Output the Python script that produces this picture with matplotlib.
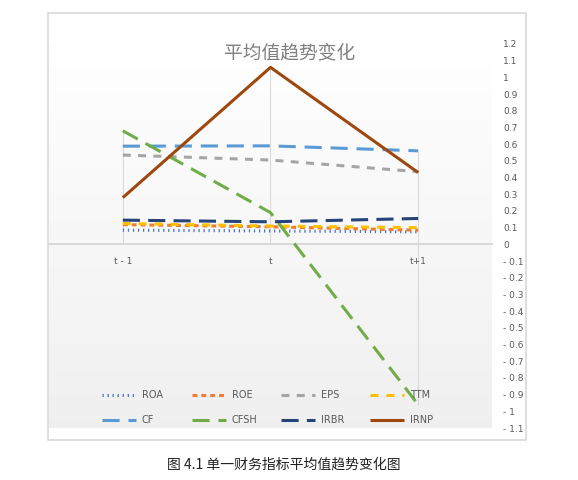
import matplotlib
matplotlib.use("Agg")
import matplotlib.pyplot as plt
import numpy as np
from matplotlib.patches import Rectangle

# ---------------- data ----------------
categories = ["t - 1", "t", "t+1"]
roa = [0.085, 0.080, 0.075]
roe = [0.118, 0.105, 0.085]
eps = [0.535, 0.505, 0.435]
ttm = [0.125, 0.110, 0.100]
cf = [0.588, 0.590, 0.560]
cfsh = [0.680, 0.190, -0.960]
irbr = [0.145, 0.135, 0.155]
irnp = [0.280, 1.060, 0.430]
series_names = ["ROA", "ROE", "EPS", "TTM", "CF", "CFSH", "IRBR", "IRNP"]
y_tick_values = [1.2, 1.1, 1.0, 0.9, 0.8, 0.7, 0.6, 0.5, 0.4, 0.3, 0.2, 0.1, 0.0,
                 -0.1, -0.2, -0.3, -0.4, -0.5, -0.6, -0.7, -0.8, -0.9, -1.0, -1.1]
y_tick_labels = ["1.2", "1.1", "1", "0.9", "0.8", "0.7", "0.6", "0.5", "0.4", "0.3",
                 "0.2", "0.1", "0", "- 0.1", "- 0.2", "- 0.3", "- 0.4", "- 0.5",
                 "- 0.6", "- 0.7", "- 0.8", "- 0.9", "- 1", "- 1.1"]
title = "平均值趋势变化"
caption = "图 4.1 单一财务指标平均值趋势变化图"

# ---------------- styles ----------------
colors = ["#4472C4", "#ED7D31", "#A5A5A5", "#FFC000",
          "#5B9BD5", "#70AD47", "#264478", "#9E480E"]
dashes = [(0.4, 1.25), (1.6, 1.3), (2.6, 2.4), (2.6, 2.6),
          (5.6, 2.9), (5.6, 2.9), (5.6, 2.7), None]
LW = 2.2
W, H = 578, 480

plt.rcParams['font.family'] = ['DejaVu Sans', 'Noto Sans CJK SC']

fig = plt.figure(figsize=(W / 100, H / 100), dpi=100)
fig.patch.set_facecolor("white")

# outer chart border
fig.patches.append(Rectangle((48 / W, (H - 440) / H), 478 / W, 427 / H,
                             transform=fig.transFigure, facecolor="none",
                             edgecolor="#d9d9d9", linewidth=1.2, zorder=0))

ax = fig.add_axes([49 / W, (H - 428) / H, (492 - 49) / W, (428 - 44) / H])
ax.set_facecolor("none")
ax.set_xlim(-0.5, len(categories) - 0.5)
ax.set_ylim(-1.1, 1.2)

# gradient background of plot area
grad = np.linspace(0, 1, 256).reshape(-1, 1)
top_c = np.array([1.0, 1.0, 1.0])
bot_c = np.array([0.94, 0.94, 0.94])
img = top_c[None, None, :] * (1 - grad[:, :, None]) + bot_c[None, None, :] * grad[:, :, None]
ax.imshow(img, extent=[0, 1, 0, 1], transform=ax.transAxes, aspect="auto",
          zorder=0, origin="upper")

x = np.arange(len(categories))
all_series = [roa, roe, eps, ttm, cf, cfsh, irbr, irnp]

# drop lines
arr = np.array(all_series)
top_vals = np.maximum(arr.max(axis=0), 0)
bot_vals = np.minimum(arr.min(axis=0), 0)
ax.vlines(x, bot_vals, top_vals, colors="#d9d9d9", linewidth=0.8, zorder=1)

handles = []
for i, (vals, name) in enumerate(zip(all_series, series_names)):
    if dashes[i] is None:
        ln, = ax.plot(x, vals, color=colors[i], linewidth=LW, label=name,
                      solid_capstyle="butt", zorder=3 + i)
    else:
        ln, = ax.plot(x, vals, color=colors[i], linewidth=LW, label=name,
                      dashes=dashes[i], dash_capstyle="butt", zorder=3 + i)
    handles.append(ln)

# axes styling
for s in ["top", "left", "right"]:
    ax.spines[s].set_visible(False)
ax.spines["bottom"].set_position(("data", 0))
ax.spines["bottom"].set_color("#d9d9d9")
ax.spines["bottom"].set_linewidth(1.4)
ax.spines["bottom"].set_zorder(2)

ax.set_xticks(x)
ax.set_xticklabels(categories)
ax.tick_params(axis="x", length=0, pad=8.8, labelsize=6.5, labelcolor="#595959")

ax.yaxis.tick_right()
ax.set_yticks(y_tick_values)
ax.set_yticklabels(y_tick_labels)
ax.tick_params(axis="y", length=0, pad=7.9, labelsize=6.5, labelcolor="#595959")
for lbl in ax.get_yticklabels():
    lbl.set_horizontalalignment("left")

# title
fig.text(290 / W, 1 - 53 / H, title, fontsize=13.5, color="#808080",
         ha="center", va="center", family=["Noto Sans CJK SC", "DejaVu Sans"])

# legends (2 rows x 4 cols)
col_x = [102, 192, 281, 370]
row_y = [395, 420]
for i, h in enumerate(handles):
    r, c = divmod(i, 4)
    fig.legend([h], [series_names[i]], loc="center left",
               bbox_to_anchor=(col_x[c] / W, 1 - row_y[r] / H),
               bbox_transform=fig.transFigure, frameon=False,
               borderpad=0, borderaxespad=0, handlelength=3.5,
               handletextpad=0.6, fontsize=7, labelcolor="#595959")

# caption
fig.text(284 / W, 1 - 465 / H, caption, fontsize=10, color="#222222",
         ha="center", va="center", family=["Noto Sans CJK SC", "DejaVu Sans"])

fig.savefig("out.png", dpi=100)
